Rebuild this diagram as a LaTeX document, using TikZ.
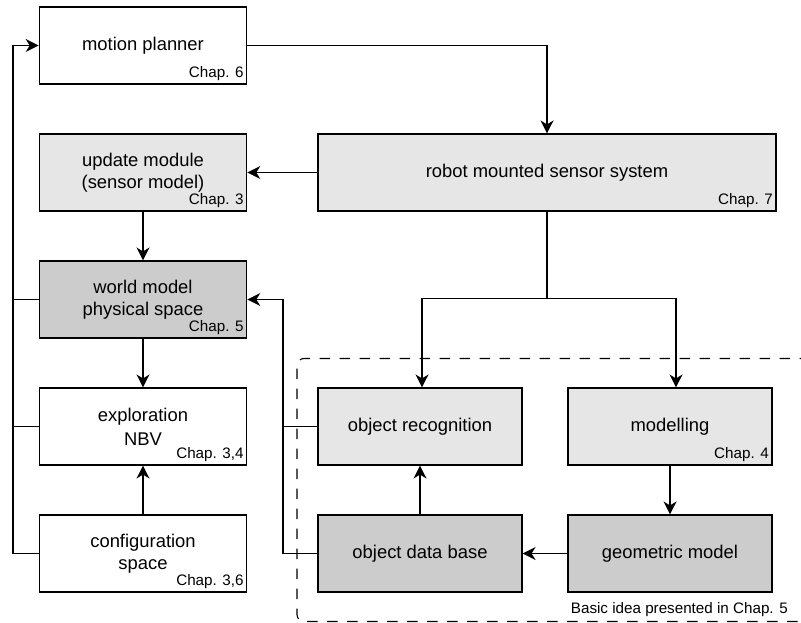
\documentclass[tikz,border=0pt]{standalone}
\usepackage{fontspec}
\setmainfont{Liberation Sans}
\usetikzlibrary{arrows.meta,calc}
\definecolor{lightfill}{HTML}{E6E6E6}
\definecolor{darkfill}{HTML}{CCCCCC}
\tikzset{
  box/.style={draw=black, line width=1.1pt, rectangle, inner sep=0pt,
    minimum width=207.5pt, minimum height=77pt, align=center,
    font=\fontsize{18.4}{22}\selectfont},
  widebox/.style={box, minimum width=458pt},
  midbox/.style={box, minimum width=204pt},
  light/.style={fill=lightfill},
  dark/.style={fill=darkfill},
  chap/.style={font=\fontsize{15.2}{17}\selectfont, anchor=base east, inner sep=0pt},
  link/.style={line width=1.1pt},
  arr/.style={link, -{Stealth[length=13pt, width=13pt, inset=4pt]}},
}
\newcommand{\chapnote}[2]{\node[chap] at ($(#1.south east)+(-3.5,-7)$) {#2};}
\begin{document}
\begin{tikzpicture}[x=1pt, y=-1pt]
  \useasboundingbox (0,0) rectangle (801,623);
  \clip (0,0) rectangle (801,623);

  % left column
  \node[box] (mp) at (143,45.5) {motion planner};
  \node[box, light] (upd) at (143,172.5) {update module\\(sensor model)};
  \node[box, dark] (wm) at (143,299.5) {world model\\physical space};
  \node[box, font=\fontsize{18.4}{24}\selectfont] (exp) at (143,426.5) {exploration\\NBV};
  \node[box] (cfg) at (143,553.5) {configuration\\space};

  % sensor system and perception
  \node[widebox, light] (rob) at (547,172.5) {robot mounted sensor system};
  \node[midbox, light] (orec) at (420,426.5) {object recognition};
  \node[midbox, light] (mod) at (670,426.5) {modelling};
  \node[midbox, dark] (odb) at (420,553.5) {object data base};
  \node[midbox, dark] (geo) at (670,553.5) {geometric model};

  \chapnote{mp}{Chap. 6}
  \chapnote{upd}{Chap. 3}
  \chapnote{wm}{Chap. 5}
  \chapnote{exp}{Chap. 3,4}
  \chapnote{cfg}{Chap. 3,6}
  \chapnote{rob}{Chap. 7}
  \chapnote{mod}{Chap. 4}

  % dashed frame around the perception part
  \draw[line width=1.1pt, dash pattern=on 10.5pt off 9.5pt, rounded corners=7pt]
    (830,358.5) -- (297,358.5) -- (297,621.5) -- (830,621.5);
  \node[chap, anchor=base east] (basic) at (788,613)
    {Basic idea presented in Chap. 5};

  % connectors
  \coordinate (lx) at (13,0);
  \coordinate (rx) at (283,0);
  \coordinate (split) at (547,298.5);

  \draw[arr] (mp.east) -| (rob.north);
  \draw[arr] (rob.west) -- (upd.east);
  \draw[arr] (upd.south) -- (wm.north);
  \draw[arr] (wm.south) -- (exp.north);
  \draw[arr] (cfg.north) -- (exp.south);

  \draw[arr] (cfg.west) -- (cfg.west -| lx) |- (mp.west);
  \draw[link] (wm.west) -- (wm.west -| lx);
  \draw[link] (exp.west) -- (exp.west -| lx);

  \draw[link] (rob.south) -- (split);
  \draw[arr] (split) -| ([xshift=2pt]orec.north);
  \draw[arr] (split) -| ([xshift=6pt]mod.north);

  \draw[arr] (mod.south) -- (geo.north);
  \draw[arr] (geo.west) -- (odb.east);
  \draw[arr] (odb.north) -- (orec.south);

  \draw[arr] (odb.west) -- (odb.west -| rx) |- (wm.east);
  \draw[link] (orec.west) -- (orec.west -| rx);
\end{tikzpicture}
\end{document}
